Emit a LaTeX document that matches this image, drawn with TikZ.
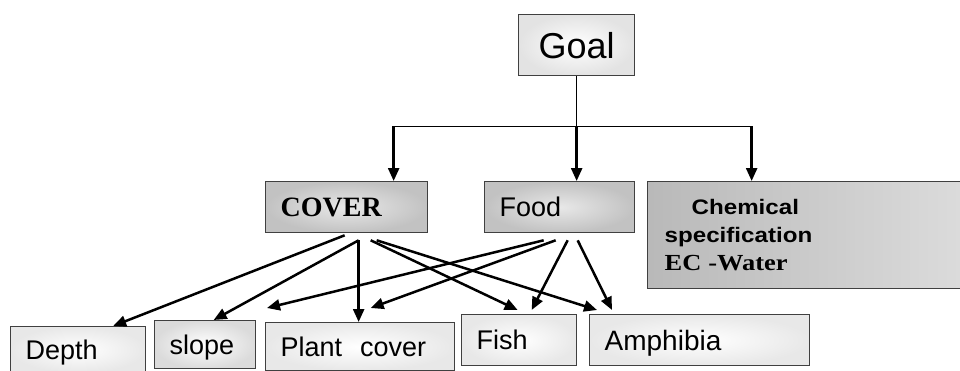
\documentclass[tikz,border=0pt]{standalone}
\usepackage{fontspec}
\setmainfont{Liberation Sans}
\newfontfamily\serifbf{Liberation Serif}[BoldFont={* Bold}]
\newfontfamily\chemsans{Liberation Sans}[FakeStretch=1.15]
\newfontfamily\chemserif{Liberation Serif}[FakeStretch=1.15]
\usetikzlibrary{arrows.meta}

\tikzset{
	box/.style	= {draw = black!75, line width = 1.3pt, anchor = north west,
			   inner xsep = 15pt, inner ysep = 0pt, align = left},
	leafbox/.style	= {box, text depth = 0pt, shading = radial, inner color = white, outer color = gray!18},
	midbox/.style	= {box, text depth = 0pt, shading = radial, inner color = gray!18, outer color = gray!48},
	link/.style	= {line width = 1.4pt, black},
	arrow/.style	= {line width = 2.5pt, black, -{Triangle[length=13pt, width=11pt]}},
}

\begin{document}
\begin{tikzpicture}
[
	x	= 1pt,	% one unit per pixel across
	y	= -1pt,	% rows counted downwards
]
\useasboundingbox (0,0) rectangle (960,370);

{
	% nodes declaration
	\node (nGoal) [box, text depth = 0pt, shading = radial, inner color = white, outer color = gray!22,
		minimum width = 116pt, minimum height = 61pt, align = center, inner xsep = 0pt,
		font = \fontsize{36}{40}\selectfont] at (518,14) {Goal};

	\node (nCover) [midbox, text width = 132pt, minimum height = 51pt,
		font = \fontsize{28}{32}\selectfont\serifbf\bfseries] at (265,181) {COVER};
	\node (nFood) [midbox, text width = 120pt, minimum height = 51pt,
		font = \fontsize{27}{30}\selectfont] at (484,181) {Food};
	\node (nChem) [box, left color = gray!55, middle color = gray!8, right color = gray!28,
		shading angle = 90, text width = 281pt, minimum height = 107pt, inner xsep = 17pt,
		font = \fontsize{21}{28}\selectfont\bfseries\chemsans] at (647,181)
		{\hspace*{27pt}Chemical\\specification\\{\fontsize{23}{28}\selectfont\chemserif EC -Water}};

	\node (nDepth) [leafbox, text width = 105pt, minimum height = 46pt,
		font = \fontsize{27}{30}\selectfont] at (10,326) {Depth};
	\node (nSlope) [leafbox, outer color = gray!28, text width = 71pt, minimum height = 48pt,
		font = \fontsize{27}{30}\selectfont] at (154,320) {slope};
	\node (nPlant) [leafbox, text width = 159pt, minimum height = 48pt,
		font = \fontsize{27}{30}\selectfont] at (265,322) {Plant~ cover};
	\node (nFish) [leafbox, text width = 85pt, minimum height = 51pt,
		font = \fontsize{27}{30}\selectfont] at (461,314) {Fish};
	\node (nAmph) [leafbox, text width = 190pt, minimum height = 51pt,
		font = \fontsize{28}{30}\selectfont] at (589,314) {Amphibia};

	% edges declaration
	\draw [link] (nGoal.south) -- ([yshift=-50pt]nGoal.south) coordinate (cFork);
	\draw [link] (cFork) -| ([xshift=47pt, yshift=55pt]nCover.north);
	\draw [link] (cFork) -| ([xshift=-53.5pt, yshift=55pt]nChem.north);
	\draw [arrow] ([xshift=47pt, yshift=55pt]nCover.north) -- ([xshift=47pt]nCover.north);
	\draw [arrow] (cFork) -- ([xshift=17pt]nFood.north);
	\draw [arrow] ([xshift=-53.5pt, yshift=55pt]nChem.north) -- ([xshift=-53.5pt]nChem.north);

	\draw [arrow] ([xshift=-2pt, yshift=-2pt]nCover.south) -- ([xshift=35pt]nDepth.north);
	\draw [arrow] ([xshift=12pt, yshift=-7pt]nCover.south) -- ([xshift=8.5pt]nSlope.north);
	\draw [arrow] ([xshift=12pt, yshift=-7pt]nCover.south) -- ([xshift=-1.5pt]nPlant.north);
	\draw [arrow] ([xshift=24pt, yshift=-7pt]nCover.south) -- ([xshift=-1.5pt, yshift=4pt]nFish.north);
	\draw [arrow] ([xshift=30pt, yshift=-7pt]nCover.south) -- ([xshift=8pt, yshift=4pt]nAmph.north west);

	\draw [arrow] ([xshift=-16pt, yshift=-7pt]nFood.south) -- ([xshift=2pt, yshift=14pt]nPlant.north west);
	\draw [arrow] ([xshift=-4pt, yshift=-7pt]nFood.south) -- ([xshift=10.5pt, yshift=14pt]nPlant.north);
	\draw [arrow] ([xshift=8pt, yshift=-7pt]nFood.south) -- ([xshift=12.5pt, yshift=4pt]nFish.north);
	\draw [arrow] ([xshift=18pt, yshift=-7pt]nFood.south) -- ([xshift=23pt, yshift=4pt]nAmph.north west);
}

\end{tikzpicture}
\end{document}
